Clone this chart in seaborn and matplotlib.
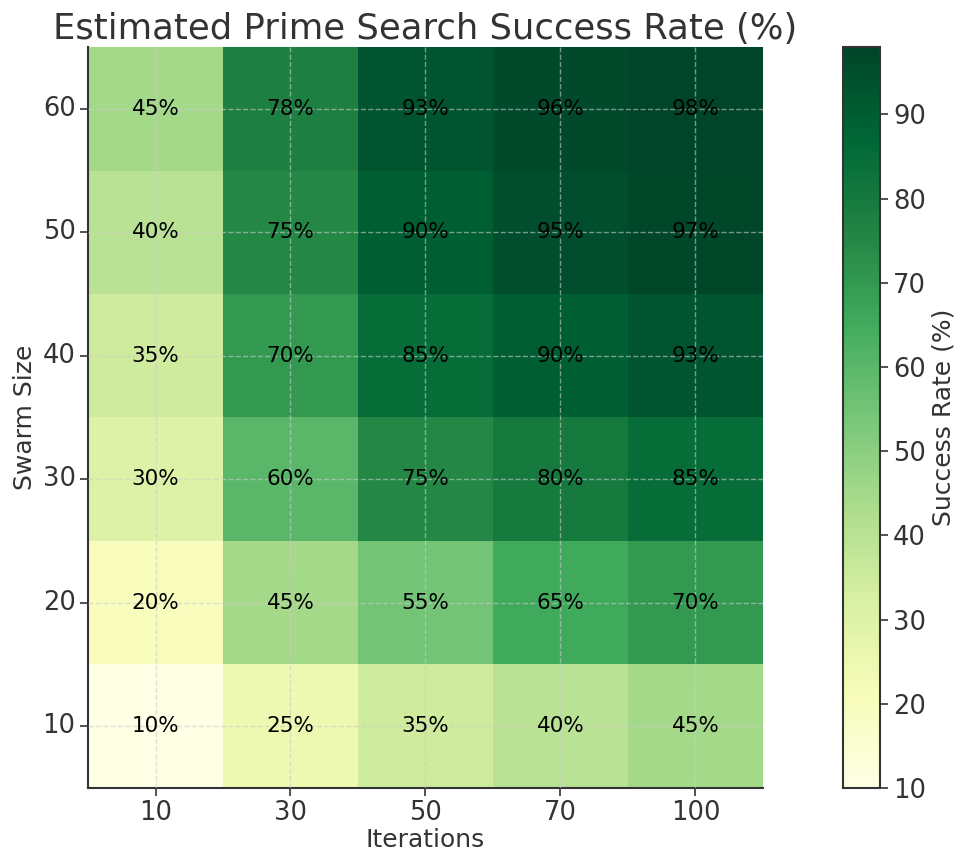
import matplotlib
matplotlib.use("Agg")
import matplotlib.pyplot as plt
import seaborn as sns
import numpy as np
import pandas as pd

iterations = [10, 30, 50, 70, 100]
swarm_sizes = [60, 50, 40, 30, 20, 10]
rate_60 = [45, 78, 93, 96, 98]
rate_50 = [40, 75, 90, 95, 97]
rate_40 = [35, 70, 85, 90, 93]
rate_30 = [30, 60, 75, 80, 85]
rate_20 = [20, 45, 55, 65, 70]
rate_10 = [10, 25, 35, 40, 45]

df = pd.DataFrame([rate_60, rate_50, rate_40, rate_30, rate_20, rate_10],
                  index=swarm_sizes, columns=iterations)

sns.set_style("white")
plt.rcParams['font.family'] = ['DejaVu Sans']
dark = "#333333"

fig = plt.figure(figsize=(9.62, 8.55), dpi=100)
ax = fig.add_axes([0.0915, 0.0784, 0.7015, 0.8666])
cax = fig.add_axes([0.876, 0.0784, 0.0385, 0.8666])

annot = df.map(lambda v: f"{v}%")
sns.heatmap(df, ax=ax, cbar_ax=cax, cmap="YlGn", vmin=10, vmax=98,
            annot=annot, fmt="", annot_kws={"fontsize": 15.5, "color": "black"},
            cbar_kws={"label": "Success Rate (%)"})

ax.set_title("Estimated Prime Search Success Rate (%)", fontsize=25.5, color=dark, pad=6)
ax.set_xlabel("Iterations", fontsize=18, color=dark, labelpad=1)
ax.set_ylabel("Swarm Size", fontsize=18, color=dark)
ax.tick_params(axis="both", labelsize=18.5, colors=dark, length=6, width=1.2,
               bottom=True, left=True, pad=3)
ax.tick_params(axis="y", labelrotation=0)
ax.tick_params(axis="x", labelrotation=0)

ax.grid(True, linestyle="--", color="#cccccc", linewidth=1.0, alpha=0.6)
ax.set_axisbelow(False)
for side in ["left", "bottom"]:
    ax.spines[side].set_visible(True)
    ax.spines[side].set_color(dark)
    ax.spines[side].set_linewidth(1.5)
for side in ["top", "right"]:
    ax.spines[side].set_visible(False)

cbar = ax.collections[0].colorbar
cbar.set_ticks([10, 20, 30, 40, 50, 60, 70, 80, 90])
cbar.ax.tick_params(labelsize=18.5, colors=dark, length=6, width=1.2)
cbar.ax.yaxis.label.set_size(18)
cbar.ax.yaxis.label.set_color(dark)
cbar.outline.set_visible(True)
cbar.outline.set_edgecolor(dark)
cbar.outline.set_linewidth(1.5)

fig.savefig("out.png", dpi=100)
